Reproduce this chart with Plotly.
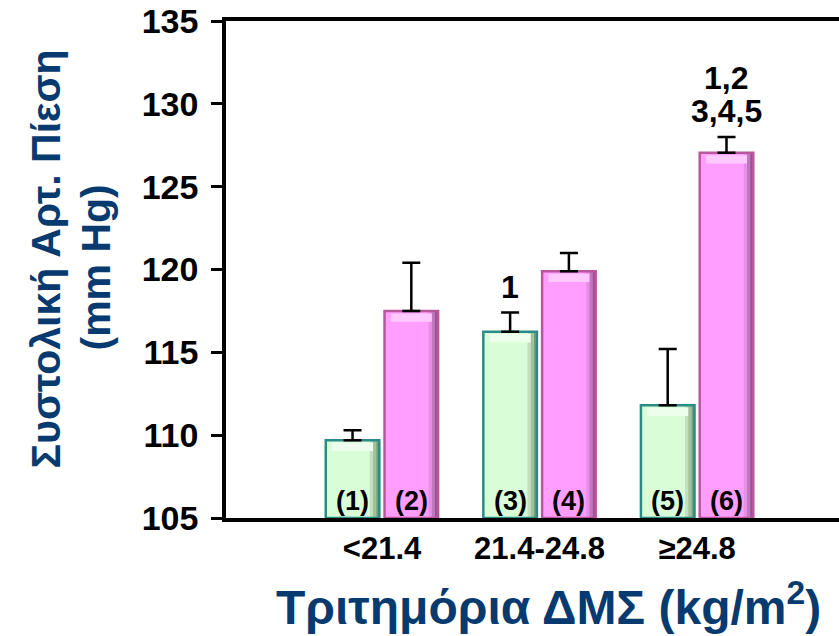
import plotly.graph_objects as go

# BMI tertiles (kg/m2)
categories = ["<21.4", "21.4-24.8", "≥24.8"]

# Mean systolic blood pressure (mm Hg) and upper SEM per group
green_means = [109.7, 116.25, 111.8]
green_err = [0.6, 1.15, 3.4]
pink_means = [117.5, 119.9, 127.05]
pink_err = [2.9, 1.1, 0.95]

green_ids = ["(1)", "(3)", "(5)"]
pink_ids = ["(2)", "(4)", "(6)"]

# significance marks above bars: (group index, series, lines of text)
sig_marks = [(1, "green", ["1"]), (2, "pink", ["1,2", "3,4,5"])]

y_title_lines = ["<b>Συστολική Αρτ. Πίεση</b>", "<b>(mm Hg)</b>"]
x_title = "<b>Τριτημόρια ΔΜΣ (kg/m<sup>2</sup>)</b>"

FONT = "Arial, Liberation Sans, sans-serif"
NAVY = "#073a6e"
BASE = 105
yticks = [105, 110, 115, 120, 125, 130, 135]

x = list(range(len(categories)))
bar_w = 0.34
g_off = -0.357
p_off = 0.016

series = [
    dict(means=green_means, err=green_err, off=g_off, fill="#d9fdd7",
         edge="#2b8b87", light="#eefeec", dark=["#c2e0bf", "#9fc19d", "#7a9d78"]),
    dict(means=pink_means, err=pink_err, off=p_off, fill="#ff9eff",
         edge="#b8579c", light="#ffc8ff", dark=["#e88ee8", "#c276c0", "#955690"]),
]

fig = go.Figure()

for s in series:
    heights = [m - BASE for m in s["means"]]
    # main bar body
    fig.add_trace(go.Bar(
        x=x, y=heights, base=BASE, width=bar_w, offset=s["off"],
        marker=dict(color=s["fill"], line=dict(width=0)),
        showlegend=False, hoverinfo="skip",
    ))
    # shaded right-hand side for a bevelled look
    strip = 0.02
    for k, col in enumerate(s["dark"]):
        fig.add_trace(go.Bar(
            x=x, y=heights, base=BASE, width=strip,
            offset=s["off"] + bar_w - strip * (3 - k),
            marker=dict(color=col, line=dict(width=0)),
            showlegend=False, hoverinfo="skip",
        ))
    # light bevel along the top
    fig.add_trace(go.Bar(
        x=x, y=[0.5] * len(x), base=[m - 0.65 for m in s["means"]],
        width=bar_w - 0.08, offset=s["off"] + 0.04,
        marker=dict(color=s["light"], line=dict(width=0)),
        showlegend=False, hoverinfo="skip",
    ))
    # outline and error bars
    fig.add_trace(go.Bar(
        x=x, y=heights, base=BASE, width=bar_w, offset=s["off"],
        marker=dict(color="rgba(0,0,0,0)", line=dict(color=s["edge"], width=2.5)),
        error_y=dict(type="data", array=s["err"], arrayminus=[0] * len(x),
                     symmetric=False, color="black", thickness=2.5, width=9),
        showlegend=False,
    ))

annotations = []
g_center = g_off + bar_w / 2
p_center = p_off + bar_w / 2
for i in x:
    for xc, label in ((i + g_center, green_ids[i]), (i + p_center, pink_ids[i])):
        annotations.append(dict(x=xc, y=BASE, text=f"<b>{label}</b>",
                                showarrow=False, yanchor="bottom", yshift=0,
                                font=dict(family=FONT, size=27, color="black")))

for gi, which, lines in sig_marks:
    if which == "green":
        xc = gi + g_center
        top = green_means[gi] + green_err[gi]
    else:
        xc = gi + p_center
        top = pink_means[gi] + pink_err[gi]
    for j, line in enumerate(reversed(lines)):
        annotations.append(dict(x=xc, y=top, text=f"<b>{line}</b>", showarrow=False,
                                yanchor="bottom", yshift=6 + 33 * j,
                                font=dict(family=FONT, size=32, color="black")))

# axis titles
for line, xs, ys in zip(y_title_lines, (-181, -131), (10, 2)):
    annotations.append(dict(xref="paper", yref="paper", x=0, y=0.5, xshift=xs, yshift=ys,
                            xanchor="center", yanchor="middle", textangle=-90,
                            text=line, showarrow=False,
                            font=dict(family=FONT, size=41, color=NAVY)))
annotations.append(dict(xref="paper", yref="paper", x=0.5, y=0, xshift=16, yshift=-54,
                        xanchor="center", yanchor="top",
                        text=x_title, showarrow=False,
                        font=dict(family=FONT, size=48, color=NAVY)))

fig.update_layout(
    width=839, height=636,
    margin=dict(l=226, r=0, t=21, b=118),
    plot_bgcolor="white", paper_bgcolor="white",
    font=dict(family=FONT, color="black"),
    barmode="overlay",
    annotations=annotations,
    xaxis=dict(
        range=[-0.99, 2.9],
        tickvals=x, ticktext=[f"<b>{c}</b>" for c in categories],
        tickfont=dict(family=FONT, size=31, color="black"),
        ticks="", ticklabelstandoff=0,
        showline=True, linecolor="black", linewidth=3.5, mirror=True,
        showgrid=False, zeroline=False,
    ),
    yaxis=dict(
        range=[105, 135], tickvals=yticks,
        ticktext=[f"<b>{v}</b>" for v in yticks],
        tickfont=dict(family=FONT, size=34, color="black"),
        ticks="outside", ticklen=11, tickwidth=3, tickcolor="black",
        ticklabelstandoff=6,
        showline=True, linecolor="black", linewidth=3.5,
        showgrid=False, zeroline=False,
    ),
)

fig.write_html("out.html")
